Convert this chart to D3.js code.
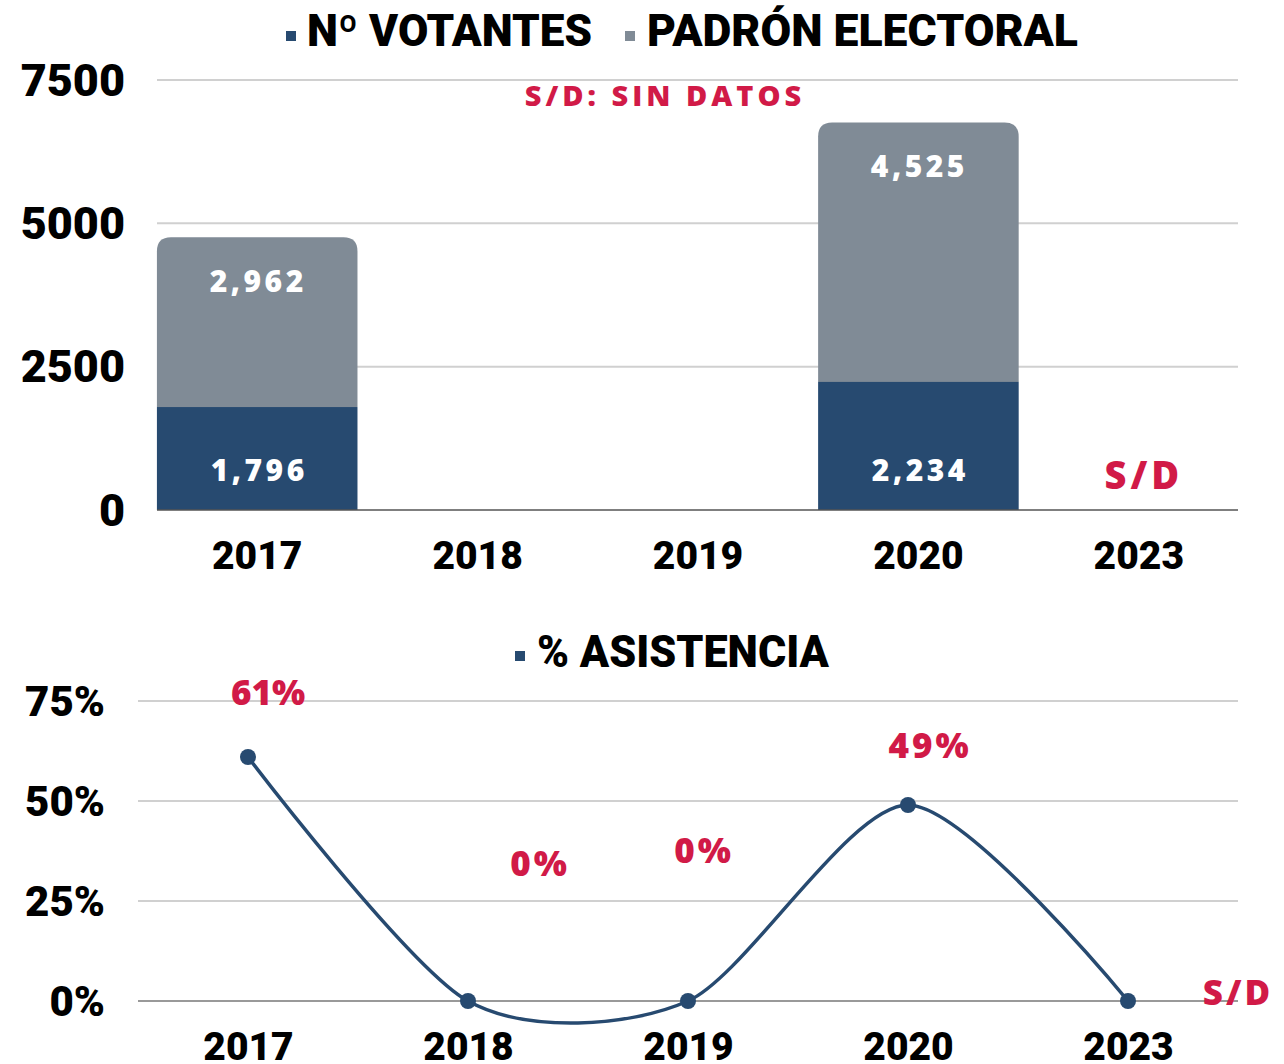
<!DOCTYPE html>
<html>
<head>
<meta charset="utf-8">
<script src="https://cdn.jsdelivr.net/npm/d3@7"></script>
<style>
  body { margin: 0; background: #fff; }
  svg { display: block; font-family: Roboto, "Open Sans", sans-serif; }
</style>
</head>
<body>
<svg id="chart" width="1284" height="1064"></svg>
<script>
// data
const years = ['2017', '2018', '2019', '2020', '2023'];
const votantes = [1796, null, null, 2234, null];
const padron = [2962, null, null, 4525, null];
const barTicks = [0, 2500, 5000, 7500];
const asistencia = [61, 0, 0, 49, 0];
const asistenciaLabels = ['61%', '0%', '0%', '49%', 'S/D'];
const pctTicks = [0, 25, 50, 75];

const NAVY = '#274a70', GRAY = '#808b96', RED = '#d11a47', GRID = '#d0d0d0';

const svg = d3.select('#chart');

// ---------- top: stacked bars ----------
const x = d3.scaleBand().domain(years).range([147, 1249]).paddingInner(0.09).paddingOuter(0.045);
const y = d3.scaleLinear().domain([0, 7500]).range([510, 80]);

// legend
const leg1 = svg.append('g');
leg1.append('rect').attr('x', 286).attr('y', 31).attr('width', 10).attr('height', 10).attr('fill', NAVY);
leg1.append('text').attr('x', 307).attr('y', 46).attr('font-size', 44).attr('font-weight', 900)
  .attr('textLength', 285).attr('lengthAdjust', 'spacingAndGlyphs').text('Nº VOTANTES');
leg1.append('rect').attr('x', 625).attr('y', 31).attr('width', 10).attr('height', 10).attr('fill', GRAY);
leg1.append('text').attr('x', 647).attr('y', 46).attr('font-size', 44).attr('font-weight', 900)
  .attr('textLength', 431).attr('lengthAdjust', 'spacingAndGlyphs').text('PADRÓN ELECTORAL');

// grid
svg.append('g').selectAll('line').data(barTicks.filter(d => d > 0)).join('line')
  .attr('x1', 157).attr('x2', 1238).attr('y1', d => y(d)).attr('y2', d => y(d))
  .attr('stroke', GRID).attr('stroke-width', 2);

// y ticks
svg.append('g').selectAll('text').data(barTicks).join('text')
  .attr('x', 125).attr('y', d => y(d)).attr('dy', '0.35em').attr('text-anchor', 'end')
  .attr('font-size', 45).attr('font-weight', 900).attr('fill', '#000')
  .text(d => d);

svg.append('text').attr('x', 665).attr('y', 96).attr('dy', '0.35em').attr('text-anchor', 'middle')
  .attr('font-family', '"Open Sans", sans-serif').attr('font-size', 29).attr('font-weight', 800)
  .attr('letter-spacing', 4).attr('fill', RED).text('S/D: SIN DATOS');

const bars = years.map((yr, i) => ({ yr, v: votantes[i], p: padron[i] })).filter(d => d.v != null);

function topRounded(x0, y0, w, h, r) {
  return `M${x0},${y0 + h}V${y0 + r}Q${x0},${y0} ${x0 + r},${y0}H${x0 + w - r}Q${x0 + w},${y0} ${x0 + w},${y0 + r}V${y0 + h}Z`;
}

const bg = svg.append('g');
bg.selectAll('path.padron').data(bars).join('path').attr('class', 'padron')
  .attr('fill', GRAY)
  .attr('d', d => topRounded(x(d.yr), y(d.v + d.p), x.bandwidth(), y(d.v) - y(d.v + d.p), 14));
bg.selectAll('rect.vot').data(bars).join('rect').attr('class', 'vot')
  .attr('x', d => x(d.yr)).attr('y', d => y(d.v)).attr('width', x.bandwidth())
  .attr('height', d => y(0) - y(d.v)).attr('fill', NAVY);

const fmt = d3.format(',');
const valStyle = s => s.attr('text-anchor', 'middle').attr('dy', '0.35em').attr('fill', '#fff')
  .attr('font-family', '"Open Sans", sans-serif').attr('font-size', 30).attr('font-weight', 800).attr('letter-spacing', 3.5);
bg.selectAll('text.pl').data(bars).join('text').attr('class', 'pl')
  .attr('x', d => x(d.yr) + x.bandwidth() / 2 + 1).attr('y', d => y(d.v + d.p) + 44)
  .call(valStyle).text(d => fmt(d.p));
bg.selectAll('text.vl').data(bars).join('text').attr('class', 'vl')
  .attr('x', d => x(d.yr) + x.bandwidth() / 2 + 2).attr('y', d => y(d.v) + (y(0) - y(d.v)) - 40)
  .call(valStyle).text(d => fmt(d.v));

// baseline
svg.append('line').attr('x1', 157).attr('x2', 1238).attr('y1', y(0)).attr('y2', y(0))
  .attr('stroke', '#555').attr('stroke-width', 1.5);

// S/D for missing last year
svg.append('text').attr('x', x('2023') + x.bandwidth() / 2 + 5).attr('y', y(0) - 34).attr('dy', '0.35em')
  .attr('text-anchor', 'middle').attr('font-family', '"Open Sans", sans-serif').attr('font-size', 38)
  .attr('font-weight', 800).attr('letter-spacing', 4).attr('fill', RED).text('S/D');

// x axis
const xAxis = svg.append('g').attr('transform', `translate(0,${y(0)})`)
  .call(d3.axisBottom(x).tickSize(0).tickPadding(31));
xAxis.select('.domain').remove();
xAxis.selectAll('text').attr('font-size', 39).attr('font-weight', 900).attr('fill', '#000')
  .attr('font-family', 'Roboto, sans-serif').attr('dy', '0.71em');

// ---------- bottom: line ----------
const xp = d3.scalePoint().domain(years).range([138, 1238]).padding(0.5);
const yp = d3.scaleLinear().domain([0, 75]).range([1001, 701]);

const leg2 = svg.append('g');
leg2.append('rect').attr('x', 515).attr('y', 651).attr('width', 10).attr('height', 10).attr('fill', NAVY);
leg2.append('text').attr('x', 537).attr('y', 667).attr('font-size', 44).attr('font-weight', 900)
  .attr('textLength', 292).attr('lengthAdjust', 'spacingAndGlyphs').text('% ASISTENCIA');

svg.append('g').selectAll('line').data(pctTicks).join('line')
  .attr('x1', 138).attr('x2', 1238).attr('y1', d => yp(d)).attr('y2', d => yp(d))
  .attr('stroke', d => d === 0 ? '#999' : GRID).attr('stroke-width', 2);

svg.append('g').selectAll('text').data(pctTicks).join('text')
  .attr('x', 105).attr('y', d => yp(d)).attr('dy', '0.35em').attr('text-anchor', 'end')
  .attr('font-size', 42).attr('font-weight', 900).attr('fill', '#000')
  .text(d => d + '%');

const pts = years.map((yr, i) => ({ yr, v: asistencia[i], lab: asistenciaLabels[i] }));
const line = d3.line().x(d => xp(d.yr)).y(d => yp(d.v)).curve(d3.curveCardinal.tension(0.2));
svg.append('path').datum(pts).attr('d', line).attr('fill', 'none').attr('stroke', NAVY).attr('stroke-width', 3.5);
svg.append('g').selectAll('circle').data(pts).join('circle')
  .attr('cx', d => xp(d.yr)).attr('cy', d => yp(d.v)).attr('r', 8).attr('fill', NAVY);

// label placement relative to each point
const labelOffsets = [[20, -64], [72, -137], [16, -150], [22, -59], [110, -8]];
svg.append('g').selectAll('text').data(pts).join('text')
  .attr('x', (d, i) => xp(d.yr) + labelOffsets[i][0]).attr('y', (d, i) => yp(d.v) + labelOffsets[i][1])
  .attr('dy', '0.35em').attr('text-anchor', 'middle')
  .attr('font-family', '"Open Sans", sans-serif').attr('font-size', 35).attr('font-weight', 800)
  .attr('letter-spacing', (d, i) => i === 0 ? 0 : 3).attr('fill', RED).text(d => d.lab);

const xAxis2 = svg.append('g').attr('transform', `translate(0,${yp(0)})`)
  .call(d3.axisBottom(xp).tickSize(0).tickPadding(31));
xAxis2.select('.domain').remove();
xAxis2.selectAll('text').attr('font-size', 39).attr('font-weight', 900).attr('fill', '#000')
  .attr('font-family', 'Roboto, sans-serif').attr('dy', '0.71em');
</script>
</body>
</html>
